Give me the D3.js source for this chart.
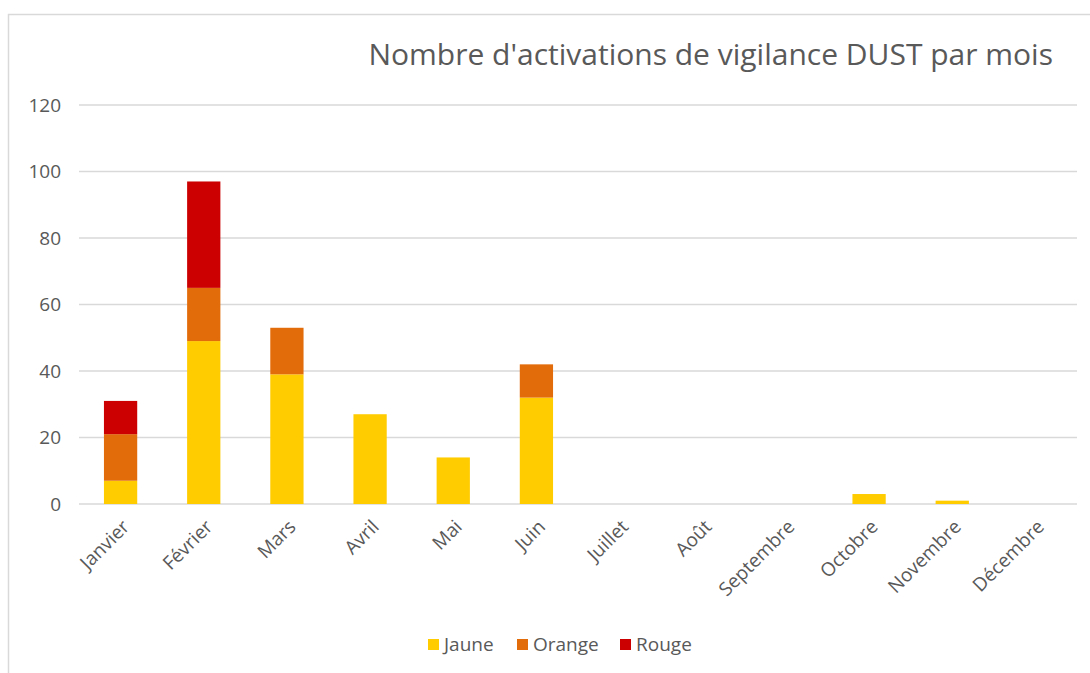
<!DOCTYPE html>
<html><head><meta charset="utf-8">
<script src="https://cdn.jsdelivr.net/npm/d3@7"></script>
<style>body{margin:0;background:#fff;} svg{display:block;}</style>
</head><body>
<svg id="c" width="1090" height="673"></svg>
<script>
const months = ["Janvier","Février","Mars","Avril","Mai","Juin","Juillet","Août","Septembre","Octobre","Novembre","Décembre"];
const jaune  = [7, 49, 39, 27, 14, 32, 0, 0, 0, 3, 1, 0];
const orange = [14, 16, 14, 0, 0, 10, 0, 0, 0, 0, 0, 0];
const rouge  = [10, 32, 0, 0, 0, 0, 0, 0, 0, 0, 0, 0];
const seriesNames = ["Jaune","Orange","Rouge"];
const seriesColors = ["#FFCC00","#E36C0A","#CC0000"];
const yTicks = [0,20,40,60,80,100,120];
const title = "Nombre d'activations de vigilance DUST par mois";

const font = "'Open Sans', 'Noto Sans', sans-serif";
const txt = "#595959";
const svg = d3.select("#c");

svg.append("rect").attr("x",8.5).attr("y",14.5).attr("width",1090).attr("height",673)
  .attr("fill","#fff").attr("stroke","#D9D9D9").attr("stroke-width",1.5);

const m = {l:79, r:1077, t:105, b:504};
const x = d3.scaleBand().domain(months).range([m.l, m.r]).paddingInner(0.6).paddingOuter(0.3);
const y = d3.scaleLinear().domain([0,120]).range([m.b, m.t]);

// gridlines
svg.append("g").selectAll("line").data(yTicks).join("line")
  .attr("x1",m.l).attr("x2",m.r).attr("y1",d=>y(d)).attr("y2",d=>y(d))
  .attr("stroke","#D9D9D9").attr("stroke-width",1.5);

// y axis labels
const yAxis = d3.axisLeft(y).tickValues(yTicks).tickSize(0).tickPadding(0);
const yg = svg.append("g").attr("transform",`translate(61,0)`).call(yAxis);
yg.select(".domain").remove();
yg.selectAll("text").attr("fill",txt).style("font-family",font).style("font-size","19px");

// stacked data
const rows = months.map((mo,i)=>({month:mo, Jaune:jaune[i], Orange:orange[i], Rouge:rouge[i]}));
const stack = d3.stack().keys(seriesNames)(rows);
const color = d3.scaleOrdinal().domain(seriesNames).range(seriesColors);

svg.append("g").selectAll("g").data(stack).join("g")
  .attr("fill",d=>color(d.key))
  .selectAll("rect").data(d=>d.filter(s=>s[1]-s[0]>0)).join("rect")
  .attr("x",d=>x(d.data.month)).attr("width",x.bandwidth())
  .attr("y",d=>y(d[1])).attr("height",d=>y(d[0])-y(d[1]));

// x axis labels
const xAxis = d3.axisBottom(x).tickSize(0).tickPadding(0);
const xg = svg.append("g").attr("transform",`translate(0,${m.b})`).call(xAxis);
xg.select(".domain").remove();
xg.selectAll("text").attr("fill",txt).style("font-family",font).style("font-size","19px")
  .attr("text-anchor","end").attr("dy",null).attr("y",0)
  .attr("transform","translate(10,24) rotate(-45)");

// title
svg.append("text").attr("x",1053).attr("y",65).attr("text-anchor","end")
  .attr("fill",txt).style("font-family",font).style("font-size","30px").text(title);

// legend
const legX = [428, 517, 620];
const lg = svg.append("g").selectAll("g").data(seriesNames).join("g")
  .attr("transform",(d,i)=>`translate(${legX[i]},639)`);
lg.append("rect").attr("width",11).attr("height",11).attr("fill",d=>color(d));
lg.append("text").attr("x",16).attr("y",12).attr("fill",txt)
  .style("font-family",font).style("font-size","19px").text(d=>d);
</script>
</body></html>
